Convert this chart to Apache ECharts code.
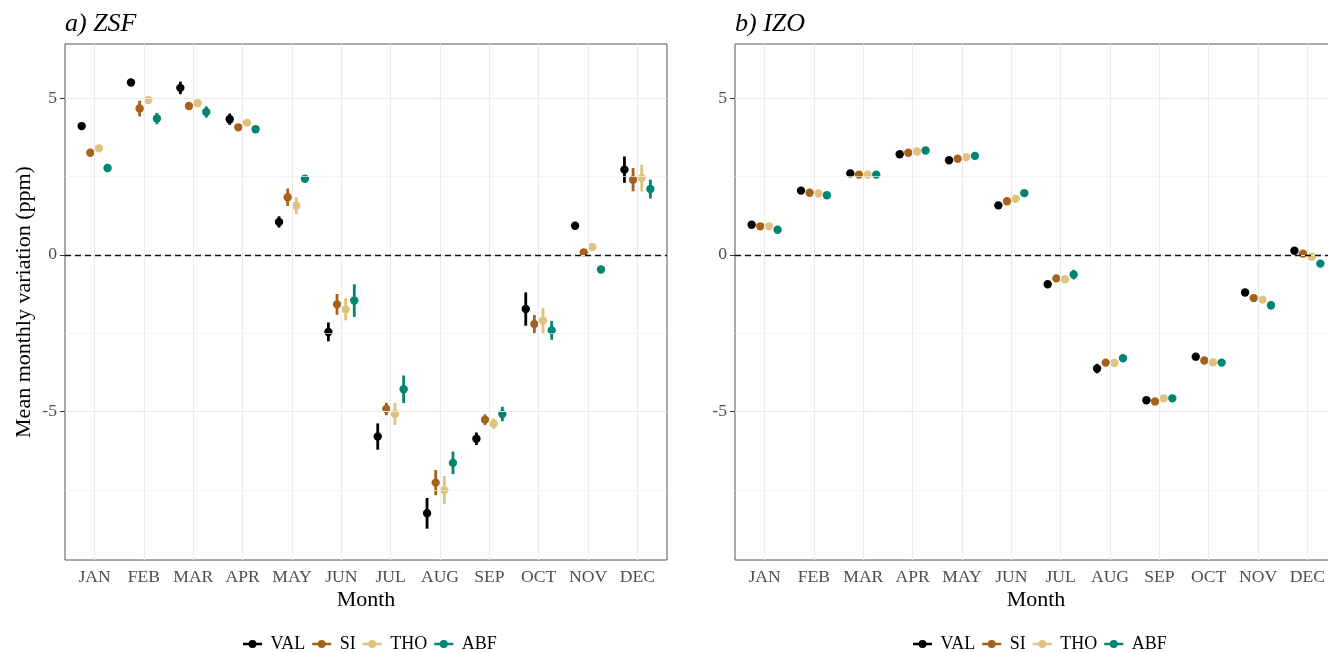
<!DOCTYPE html>
<html>
<head>
<meta charset="utf-8">
<script src="https://cdn.jsdelivr.net/npm/echarts@6/dist/echarts.min.js"></script>
<style>
  html, body { margin: 0; padding: 0; background: #ffffff; }
  #chart { width: 1328px; height: 653px; }
</style>
</head>
<body>
<div id="chart"></div>
<script>
// Month categories and station names
const months = ['JAN', 'FEB', 'MAR', 'APR', 'MAY', 'JUN', 'JUL', 'AUG', 'SEP', 'OCT', 'NOV', 'DEC'];
const sites = ['VAL', 'SI', 'THO', 'ABF'];
const siteColors = ['#000000', '#a6611a', '#dfc27d', '#018571'];

// Y axis breaks
const yTicks = [-5, 0, 5];
const yMinorBreaks = [-7.5, -2.5, 2.5];

// a) ZSF: mean monthly variation (ppm) and error half-widths
const zsfVal    = [4.11, 5.50, 5.33, 4.33, 1.05, -2.46, -5.80, -8.25, -5.87, -1.73, 0.93, 2.72];
const zsfValErr = [0.05, 0.06, 0.20, 0.18, 0.18, 0.30, 0.42, 0.49, 0.20, 0.53, 0.05, 0.42];
const zsfSi     = [3.26, 4.67, 4.75, 4.07, 1.84, -1.58, -4.92, -7.27, -5.26, -2.21, 0.08, 2.40];
const zsfSiErr  = [0.06, 0.25, 0.08, 0.08, 0.28, 0.33, 0.20, 0.40, 0.17, 0.29, 0.05, 0.37];
const zsfTho    = [3.40, 4.94, 4.84, 4.22, 1.57, -1.74, -5.08, -7.51, -5.39, -2.10, 0.25, 2.45];
const zsfThoErr = [0.05, 0.07, 0.10, 0.08, 0.27, 0.35, 0.35, 0.45, 0.17, 0.40, 0.05, 0.43];
const zsfAbf    = [2.77, 4.35, 4.56, 4.01, 2.43, -1.46, -4.29, -6.64, -5.08, -2.41, -0.47, 2.10];
const zsfAbfErr = [0.07, 0.18, 0.18, 0.06, 0.08, 0.52, 0.44, 0.36, 0.23, 0.30, 0.06, 0.30];

// b) IZO: mean monthly variation (ppm) and error half-widths
const izoVal    = [0.96, 2.05, 2.60, 3.21, 3.02, 1.58, -0.94, -3.63, -4.64, -3.25, -1.20, 0.13];
const izoValErr = [0.04, 0.04, 0.05, 0.05, 0.05, 0.05, 0.05, 0.15, 0.04, 0.05, 0.10, 0.08];
const izoSi     = [0.91, 1.98, 2.56, 3.26, 3.07, 1.71, -0.75, -3.44, -4.68, -3.37, -1.38, 0.04];
const izoSiErr  = [0.04, 0.04, 0.05, 0.05, 0.05, 0.05, 0.05, 0.10, 0.04, 0.05, 0.05, 0.05];
const izoTho    = [0.91, 1.96, 2.56, 3.30, 3.12, 1.79, -0.78, -3.45, -4.58, -3.43, -1.43, -0.06];
const izoThoErr = [0.04, 0.04, 0.05, 0.05, 0.05, 0.05, 0.05, 0.10, 0.04, 0.08, 0.05, 0.05];
const izoAbf    = [0.80, 1.90, 2.56, 3.33, 3.16, 1.97, -0.63, -3.30, -4.58, -3.44, -1.61, -0.28];
const izoAbfErr = [0.04, 0.04, 0.10, 0.05, 0.05, 0.05, 0.15, 0.05, 0.05, 0.05, 0.13, 0.05];

const panels = [
  { title: 'a) ZSF', values: [zsfVal, zsfSi, zsfTho, zsfAbf], errors: [zsfValErr, zsfSiErr, zsfThoErr, zsfAbfErr] },
  { title: 'b) IZO', values: [izoVal, izoSi, izoTho, izoAbf], errors: [izoValErr, izoSiErr, izoThoErr, izoAbfErr] }
];

const FONT = "'Liberation Serif', 'DejaVu Serif', serif";
// the second panel runs past the right edge of the page
const gridLefts = [65, 735];
const gridTop = 44, gridW = 602, gridH = 516;
const yMin = -9.74, yMax = 6.73;
const dodge = 0.7;
const offsets = sites.map((s, k) => dodge * ((k + 0.5) / sites.length - 0.5));

// point + vertical error bar
function pointRange(offset, color) {
  return function (params, api) {
    const x = api.value(0) + offset;
    const y = api.value(1);
    const e = api.value(2);
    const top = api.coord([x, y + e]);
    const bot = api.coord([x, y - e]);
    const c = api.coord([x, y]);
    return {
      type: 'group',
      children: [
        { type: 'line', shape: { x1: top[0], y1: top[1], x2: bot[0], y2: bot[1] },
          style: { stroke: color, lineWidth: 2.8 } },
        { type: 'circle', shape: { cx: c[0], cy: c[1], r: 4.2 }, style: { fill: color } }
      ]
    };
  };
}

const monthPositions = months.map((m, i) => i + 1);
const majorGrid = { color: '#ebebeb', width: 1.1, type: 'solid' };
const minorGrid = { color: '#f0f0f0', width: 0.7, type: 'solid' };

const grids = [], xAxes = [], yAxes = [], series = [], titles = [], legends = [];
const legendIcon = 'path://M0,2.8H20V5.2H0Z M14.2,4A4.2,4.2 0 1 1 5.8,4A4.2,4.2 0 1 1 14.2,4Z';
const legendLefts = [243, 913];

panels.forEach((panel, p) => {
  grids.push({
    left: gridLefts[p], top: gridTop, width: gridW, height: gridH,
    outerBoundsMode: 'none', containLabel: false,
    show: true, backgroundColor: '#ffffff', borderColor: '#555555', borderWidth: 1
  });
  xAxes.push({
    type: 'value', gridIndex: p, min: 0.4, max: 12.6,
    name: 'Month', nameLocation: 'middle', nameGap: 29, nameMoveOverlap: false,
    nameTextStyle: { fontFamily: FONT, fontSize: 22, color: '#000000' },
    axisLine: { show: false },
    axisTick: { show: true, customValues: monthPositions, length: 5, lineStyle: { color: '#333333', width: 1 } },
    axisLabel: {
      customValues: monthPositions, margin: 8,
      fontFamily: FONT, fontSize: 17.6, color: '#4d4d4d',
      formatter: v => months[Math.round(v) - 1] || ''
    },
    splitLine: { show: false }
  });
  yAxes.push({
    type: 'value', gridIndex: p, min: yMin, max: yMax,
    name: p === 0 ? 'Mean monthly variation (ppm)' : '',
    nameLocation: 'middle', nameGap: 30,
    nameTextStyle: { fontFamily: FONT, fontSize: 22, color: '#000000' },
    axisLine: { show: false },
    axisTick: { show: true, customValues: yTicks, length: 5, lineStyle: { color: '#333333', width: 1 } },
    axisLabel: { customValues: yTicks, margin: 8, fontFamily: FONT, fontSize: 17.6, color: '#4d4d4d' },
    splitLine: { show: false }
  });
  titles.push({
    text: panel.title, left: gridLefts[p], top: 11, padding: 0,
    textStyle: { fontFamily: FONT, fontStyle: 'italic', fontWeight: 'normal', fontSize: 26, color: '#000000' }
  });

  // background grid lines and the dashed zero reference line
  series.push({
    type: 'line', xAxisIndex: p, yAxisIndex: p, data: [], silent: true, z: 1,
    markLine: {
      silent: true, symbol: 'none', animation: false, label: { show: false },
      emphasis: { disabled: true },
      data: [
        ...yMinorBreaks.map(v => ({ yAxis: v, lineStyle: minorGrid })),
        ...monthPositions.map(v => ({ xAxis: v, lineStyle: majorGrid })),
        ...yTicks.map(v => ({ yAxis: v, lineStyle: majorGrid })),
        { yAxis: 0, lineStyle: { color: '#111111', width: 1.3, type: [6, 4] } }
      ]
    }
  });

  sites.forEach((site, k) => {
    series.push({
      type: 'custom', name: site, xAxisIndex: p, yAxisIndex: p, z: 3,
      itemStyle: { color: siteColors[k] },
      encode: { x: 0, y: 1 },
      renderItem: pointRange(offsets[k], siteColors[k]),
      data: months.map((m, i) => [i + 1, panel.values[k][i], panel.errors[k][i]])
    });
  });

  legends.push({
    left: legendLefts[p], top: 635, padding: 0, itemGap: 7,
    itemWidth: 20, itemHeight: 8, icon: legendIcon,
    textStyle: { fontFamily: FONT, fontSize: 18, color: '#000000', padding: [0, 0, 0, 3] },
    data: sites.slice(), selectedMode: false
  });
});

const chart = echarts.init(document.getElementById('chart'), null, { renderer: 'canvas' });
chart.setOption({
  animation: false,
  backgroundColor: '#ffffff',
  title: titles,
  legend: legends,
  grid: grids,
  xAxis: xAxes,
  yAxis: yAxes,
  series: series
});
</script>
</body>
</html>
